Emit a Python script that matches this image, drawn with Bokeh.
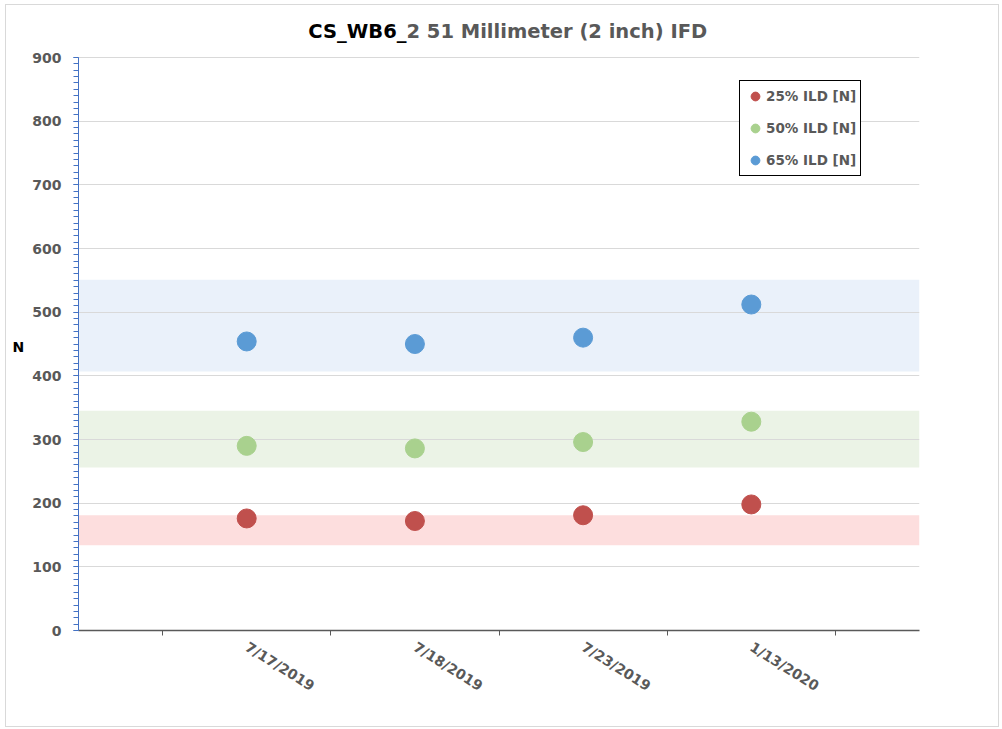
from bokeh.plotting import figure
from bokeh.models import (Range1d, FixedTicker, SingleIntervalTicker, BoxAnnotation, Label)
from bokeh.embed import file_html
from bokeh.resources import INLINE

# ---- data ----
dates = ["7/17/2019", "7/18/2019", "7/23/2019", "1/13/2020"]
series_names = ["25% ILD [N]", "50% ILD [N]", "65% ILD [N]"]
ild25 = [176, 172, 181, 198]
ild50 = [290, 286, 296, 328]
ild65 = [454, 450, 460, 512]
band_low = [134, 256, 407]
band_high = [181, 345, 551]
title_part1 = "CS_WB6_"
title_part2 = "2 51 Millimeter (2 inch) IFD"
y_label = "N"
y_max = 900

series_colors = ["#C0504D", "#A9D18E", "#5B9BD5"]
band_colors = ["#FDDEDE", "#EBF3E6", "#EAF1FA"]
FONT = "DejaVu Sans"
GRAY = "#595959"

# layout (page pixels)
MARGIN_L, MARGIN_T = 6, 5
W, H = 992, 721
LEFT, RIGHT, TOP, BOTTOM = 72, 79, 5, 96
AXIS_TOP_PX = 52   # where y_max sits inside the figure
AXIS_BOTTOM_PX = H - BOTTOM
frame_h = H - TOP - BOTTOM
y_end = y_max * frame_h / (AXIS_BOTTOM_PX - AXIS_TOP_PX)

xs = list(range(1, len(dates) + 1))

p = figure(width=W, height=H, x_range=Range1d(0, len(dates) + 1), y_range=Range1d(0, y_end),
           output_backend="svg", toolbar_location=None, title=None,
           min_border_left=LEFT, min_border_right=RIGHT, min_border_top=TOP,
           min_border_bottom=BOTTOM)
p.outline_line_color = None
p.background_fill_color = "white"
p.border_fill_color = "white"
p.styles = {"margin-left": f"{MARGIN_L}px", "margin-top": f"{MARGIN_T}px",
            "outline": "1px solid #D9D9D9"}

# bands
for lo, hi, c in zip(band_low, band_high, band_colors):
    p.add_layout(BoxAnnotation(bottom=lo, top=hi, fill_color=c, fill_alpha=1.0,
                               line_color=None, level="image"))

# grid
p.xgrid.visible = False
p.ygrid.ticker = SingleIntervalTicker(interval=100)
p.ygrid.bounds = (0, y_max)
p.ygrid.grid_line_color = "#D9D9D9"
p.ygrid.grid_line_width = 1

# series
for vals, name, col in zip([ild25, ild50, ild65], series_names, series_colors):
    p.scatter(xs, vals, size=19, fill_color=col, line_color=col, legend_label=name)

# y axis
ya = p.yaxis[0]
ya.bounds = (0, y_max)
ya.ticker = SingleIntervalTicker(interval=100, num_minor_ticks=10)
ya.axis_line_color = "#4472C4"
ya.major_tick_line_color = "#4472C4"
ya.minor_tick_line_color = "#4472C4"
ya.major_tick_out = 5
ya.major_tick_in = 0
ya.minor_tick_out = 5
ya.minor_tick_in = 0
ya.major_label_standoff = 12
ya.major_label_text_font = FONT
ya.major_label_text_font_style = "bold"
ya.major_label_text_font_size = "14px"
ya.major_label_text_color = GRAY
# leading blank lines push the single "N" down to the middle of the 0-900 span
ya.axis_label = "\n\n\n" + y_label
ya.axis_label_orientation = "horizontal"
ya.axis_label_standoff = 5
ya.axis_label_text_line_height = 1.1
ya.axis_label_text_font = FONT
ya.axis_label_text_font_style = "bold"
ya.axis_label_text_font_size = "14px"
ya.axis_label_text_color = "black"

# x axis
xa = p.xaxis[0]
boundaries = [x + 0.5 for x in range(len(dates) + 1)]
xa.ticker = FixedTicker(ticks=xs, minor_ticks=boundaries)
xa.major_label_overrides = {x: d for x, d in zip(xs, dates)}
xa.axis_line_color = GRAY
xa.axis_line_width = 1.5
xa.major_tick_line_color = None
xa.major_tick_out = 0
xa.major_tick_in = 0
xa.minor_tick_line_color = GRAY
xa.minor_tick_out = 5
xa.minor_tick_in = 0
xa.major_label_orientation = -0.56
xa.major_label_standoff = 10
xa.major_label_text_font = FONT
xa.major_label_text_font_style = "bold"
xa.major_label_text_font_size = "14px"
xa.major_label_text_color = GRAY

# legend
lg = p.legend[0]
lg.location = (661, 454)
lg.border_line_color = "black"
lg.border_line_width = 1
lg.border_line_alpha = 1
lg.background_fill_color = "white"
lg.background_fill_alpha = 1
lg.padding = 4
lg.spacing = 10
lg.glyph_width = 22
lg.glyph_height = 22
lg.label_standoff = 0
lg.label_height = 22
lg.margin = 0
lg.label_text_font = FONT
lg.label_text_font_style = "bold"
lg.label_text_font_size = "13.5px"
lg.label_text_color = GRAY

# title (two-tone), placed inside the extended frame above y_max; both parts meet at one point
junction_x = 1.95
title_y = 941
p.add_layout(Label(x=junction_x, y=title_y, text=title_part1, text_font=FONT,
                   text_font_style="bold", text_font_size="19.5px", text_color="black",
                   text_align="right", text_baseline="middle"))
p.add_layout(Label(x=junction_x, y=title_y, text=title_part2, text_font=FONT,
                   text_font_style="bold", text_font_size="19.5px", text_color=GRAY,
                   text_align="left", text_baseline="middle"))

open("out.html", "w").write(file_html(p, INLINE))
